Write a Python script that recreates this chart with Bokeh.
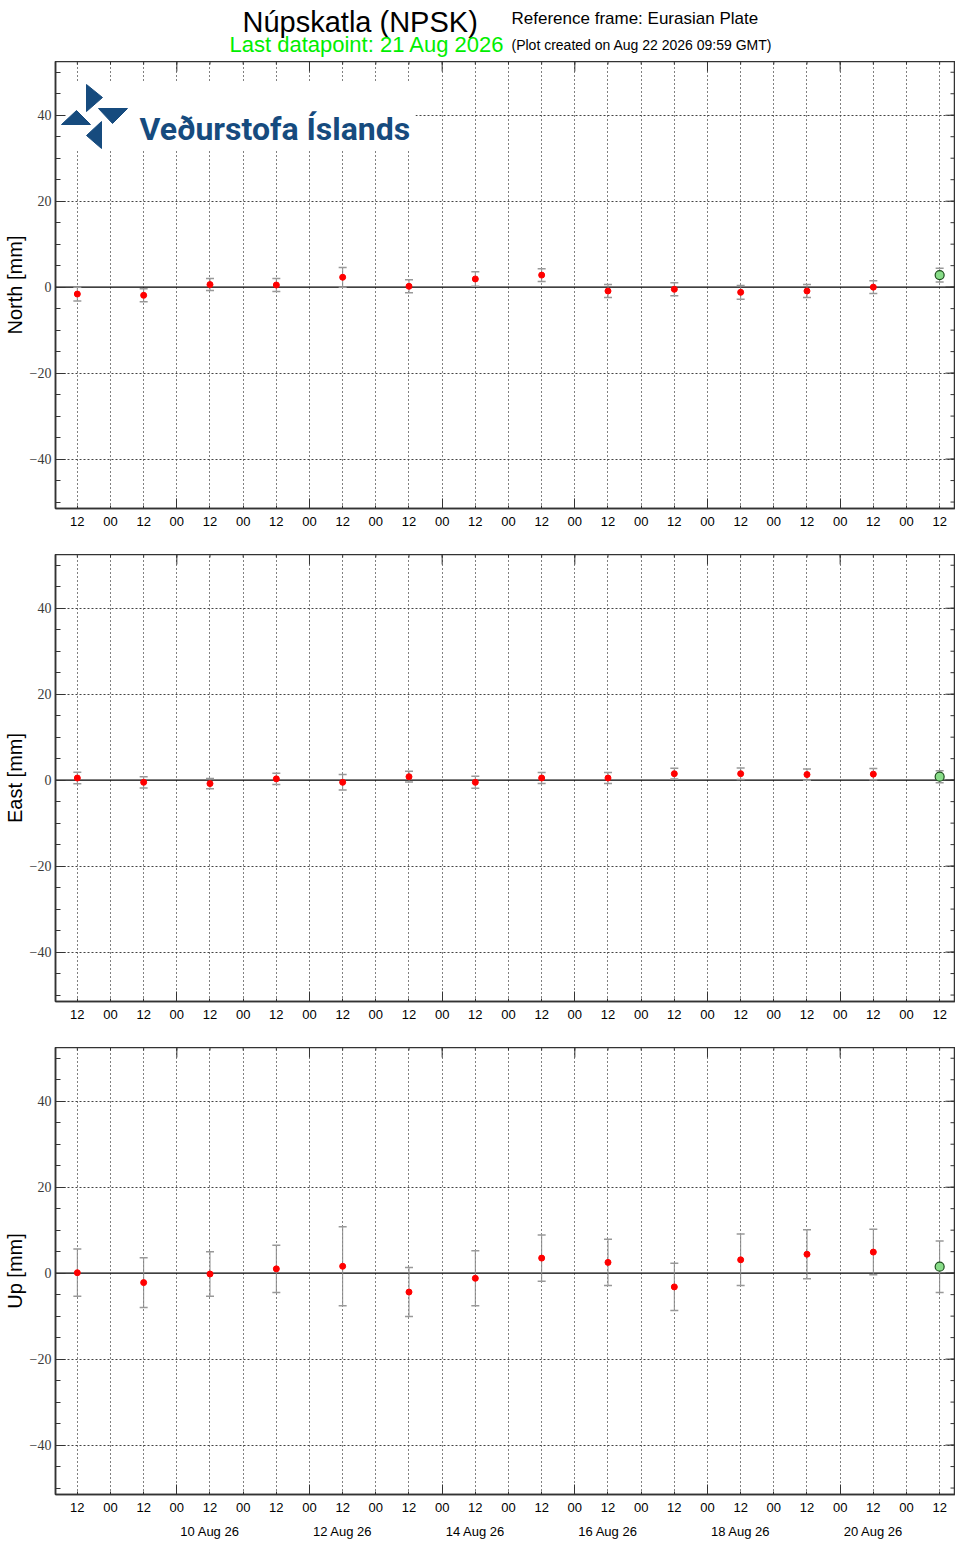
from datetime import datetime, timezone
from bokeh.plotting import figure
from bokeh.layouts import column
from bokeh.models import (Range1d, FixedTicker, DatetimeAxis,
                          DatetimeTickFormatter, ColumnDataSource, Whisker,
                          TeeHead, Span, CustomJSTickFormatter)
from bokeh.core.properties import value
from bokeh.embed import file_html
from bokeh.resources import INLINE

# ---------------- data ----------------
dates = ["2026-08-08 12:00", "2026-08-09 12:00", "2026-08-10 12:00",
         "2026-08-11 12:00", "2026-08-12 12:00", "2026-08-13 12:00",
         "2026-08-14 12:00", "2026-08-15 12:00", "2026-08-16 12:00",
         "2026-08-17 12:00", "2026-08-18 12:00", "2026-08-19 12:00",
         "2026-08-20 12:00", "2026-08-21 12:00"]
north = [-1.6, -1.9, 0.6, 0.5, 2.3, 0.2, 1.9, 2.8, -0.9, -0.5, -1.2, -0.9, 0.0, 2.8]
north_err = [1.6, 1.5, 1.4, 1.5, 2.3, 1.5, 1.7, 1.5, 1.5, 1.5, 1.6, 1.5, 1.5, 1.6]
east = [0.5, -0.5, -0.8, 0.3, -0.5, 0.8, -0.5, 0.5, 0.5, 1.5, 1.5, 1.3, 1.4, 0.8]
east_err = [1.35, 1.3, 1.2, 1.3, 1.8, 1.25, 1.4, 1.3, 1.3, 1.25, 1.35, 1.3, 1.3, 1.4]
up = [0.1, -2.2, -0.2, 1.0, 1.6, -4.4, -1.2, 3.5, 2.5, -3.2, 3.1, 4.4, 4.9, 1.5]
up_err = [5.5, 5.8, 5.2, 5.5, 9.2, 5.7, 6.4, 5.4, 5.4, 5.5, 6.0, 5.7, 5.3, 6.0]

y_major = [-40, -20, 0, 20, 40]
y_minor = [-50, -45, -40, -35, -30, -25, -20, -15, -10, -5, 0, 5, 10, 15, 20, 25, 30, 35, 40, 45, 50]
hgrid_ticks = [-40, -20, 20, 40]
date_label_days = ["2026-08-10 12:00", "2026-08-12 12:00", "2026-08-14 12:00",
                   "2026-08-16 12:00", "2026-08-18 12:00", "2026-08-20 12:00"]
long_tick_days = ["2026-08-10 00:00", "2026-08-12 00:00", "2026-08-14 00:00",
                  "2026-08-16 00:00", "2026-08-18 00:00", "2026-08-20 00:00"]
x_first_tick = "2026-08-08 12:00"
x_last_tick = "2026-08-21 12:00"
x_view = ("2026-08-08 04:06", "2026-08-21 17:44")
y_view = (-51.5, 52.5)

station_title = "N\u00fapskatla (NPSK)"
frame_text = "Reference frame: Eurasian Plate"
last_text = "Last datapoint: 21 Aug 2026"
created_text = "(Plot created on Aug 22 2026 09:59 GMT)"
logo_text = "Ve\u00f0urstofa \u00cdslands"


def ms(s):
    return datetime.strptime(s, "%Y-%m-%d %H:%M").replace(tzinfo=timezone.utc).timestamp() * 1000.0


HALF_DAY = 12 * 3600 * 1000.0
xs = [ms(d) for d in dates]
t0, t1 = ms(x_first_tick), ms(x_last_tick)
half_ticks = []
t = t0
while t <= t1 + 1:
    half_ticks.append(t)
    t += HALF_DAY
long_ticks = [ms(d) for d in long_tick_days]
date_ticks = [ms(d) for d in date_label_days]
XS, XE = ms(x_view[0]), ms(x_view[1])
YB, YT = y_view

FW, FH = 900, 447
LB = 48
SANS = value("Liberation Sans")
AX = "#333333"
DPX = (XE - XS) / FW      # data per pixel, x
DPY = (YT - YB) / FH      # data per pixel, y


def fmt_all(f):
    return DatetimeTickFormatter(microseconds=f, milliseconds=f, seconds=f, minsec=f,
                                 minutes=f, hourmin=f, hours=f, days=f, months=f, years=f)


def px2data(dx, dy):
    return XS + dx * DPX, YT - dy * DPY


def panel(label, vals, errs, bottom_border, with_dates=False, with_logo=False):
    p = figure(frame_width=FW, frame_height=FH,
               x_range=Range1d(XS, XE), y_range=Range1d(YB, YT),
               x_axis_type="datetime", toolbar_location=None, output_backend="svg",
               min_border_left=LB, min_border_right=0, min_border_top=0,
               min_border_bottom=bottom_border)
    p.background_fill_color = "white"
    p.border_fill_color = "white"
    p.outline_line_color = AX
    p.outline_line_width = 1.5

    ax = p.xaxis[0]
    ax.ticker = FixedTicker(ticks=half_ticks, minor_ticks=long_ticks)
    ax.formatter = fmt_all("%H")
    ax.major_tick_in = 3
    ax.major_tick_out = 0
    ax.minor_tick_in = 10
    ax.minor_tick_out = 0
    ax.major_tick_line_color = AX
    ax.minor_tick_line_color = AX
    ax.axis_line_color = AX
    ax.axis_line_width = 1.5
    ax.major_label_text_font = "Liberation Sans"
    ax.major_label_text_font_size = "13px"
    ax.major_label_text_color = "black"
    ax.major_label_standoff = 8

    ay = p.yaxis[0]
    ay.ticker = FixedTicker(ticks=y_major, minor_ticks=y_minor)
    ay.formatter = CustomJSTickFormatter(
        code="return tick < 0 ? '\u2212' + String(-tick) : String(tick);")
    ay.major_tick_in = 10
    ay.major_tick_out = 0
    ay.minor_tick_in = 5
    ay.minor_tick_out = 0
    ay.major_tick_line_color = AX
    ay.minor_tick_line_color = AX
    ay.axis_line_color = AX
    ay.axis_line_width = 1.5
    ay.major_label_text_font = "Liberation Serif"
    ay.major_label_text_font_size = "14px"
    ay.major_label_text_color = "#3a3a3a"
    ay.major_label_standoff = 4
    ay.axis_label = label
    ay.axis_label_text_font = "Liberation Sans"
    ay.axis_label_text_font_size = "20px"
    ay.axis_label_text_font_style = "normal"
    ay.axis_label_text_color = "black"
    ay.axis_label_standoff = 1

    p.xgrid.ticker = FixedTicker(ticks=half_ticks)
    p.xgrid.grid_line_color = "black"
    p.xgrid.grid_line_dash = "1 3"
    p.xgrid.grid_line_width = 1
    p.ygrid.ticker = FixedTicker(ticks=hgrid_ticks)
    p.ygrid.grid_line_color = "#444444"
    p.ygrid.grid_line_dash = "2 2"
    p.ygrid.grid_line_width = 1

    # mirrored inward ticks on the top and right edges
    p.segment(x0=half_ticks, y0=[YT] * len(half_ticks), x1=half_ticks,
              y1=[YT - 3 * DPY] * len(half_ticks), line_color=AX, line_width=1)
    p.segment(x0=long_ticks, y0=[YT] * len(long_ticks), x1=long_ticks,
              y1=[YT - 10 * DPY] * len(long_ticks), line_color=AX, line_width=1)
    p.segment(x0=[XE] * len(y_minor), y0=y_minor, x1=[XE - 5 * DPX] * len(y_minor),
              y1=y_minor, line_color=AX, line_width=1)
    p.segment(x0=[XE] * len(y_major), y0=y_major, x1=[XE - 10 * DPX] * len(y_major),
              y1=y_major, line_color=AX, line_width=1)

    if with_logo:
        bx0, by0 = px2data(2, 21)
        bx1, by1 = px2data(360, 89)
        p.quad(left=[bx0], right=[bx1], top=[by0], bottom=[by1],
               fill_color="white", line_color=None)
        tris = [
            [(31, 23), (47, 36), (31, 50)],
            [(43, 47), (72, 47), (57, 62)],
            [(46, 60), (46, 87), (31, 74)],
            [(6, 63), (35, 63), (21, 49)],
        ]
        lxs, lys = [], []
        for tri in tris:
            pts = [px2data(a, b) for a, b in tri]
            lxs.append([q[0] for q in pts])
            lys.append([q[1] for q in pts])
        p.patches(lxs, lys, fill_color="#164b7e", line_color="#164b7e")
        tx, ty = px2data(84, 67)
        p.text(x=[tx], y=[ty], text=[logo_text],
               text_font=value("Roboto"), text_font_style="bold",
               text_font_size="32px", text_color="#164b7e",
               text_baseline="alphabetic", text_align="left")

    zero = Span(location=0, dimension="width", line_color="black", line_width=1.3,
                level="underlay")
    p.add_layout(zero)

    src = ColumnDataSource(dict(x=xs, y=vals,
                                upper=[v + e for v, e in zip(vals, errs)],
                                lower=[v - e for v, e in zip(vals, errs)]))
    wh = Whisker(base="x", upper="upper", lower="lower", source=src,
                 line_color="#8a8a8a", line_width=1,
                 upper_head=TeeHead(size=8, line_color="#999999", line_width=1.5),
                 lower_head=TeeHead(size=8, line_color="#999999", line_width=1.5),
                 level="underlay")
    p.add_layout(wh)

    p.scatter(xs[:-1], vals[:-1], size=6, fill_color="#ff0000", line_color="#ff0000")
    p.scatter(xs[-1:], vals[-1:], size=9, fill_color="#88dd88", line_color="#1d4d1d",
              line_width=1.2)

    if with_dates:
        dax = DatetimeAxis(ticker=FixedTicker(ticks=date_ticks), formatter=fmt_all("%d %b %y"))
        dax.axis_line_color = None
        dax.major_tick_line_color = None
        dax.minor_tick_line_color = None
        dax.major_label_text_font = "Liberation Sans"
        dax.major_label_text_font_size = "13px"
        dax.major_label_text_color = "black"
        dax.major_label_standoff = 3
        p.add_layout(dax, "below")
    return p


# ---------------- header (page pixel coordinates) ----------------
HH = 61
hdr = figure(frame_width=FW, frame_height=HH, min_border_left=LB, min_border_right=0,
             min_border_top=0, min_border_bottom=0,
             x_range=Range1d(LB + 8, LB + 8 + FW), y_range=Range1d(8 + HH, 8),
             toolbar_location=None, output_backend="svg", x_axis_type=None,
             y_axis_type=None)
hdr.outline_line_color = None
hdr.grid.visible = False
hdr.text(x=[243], y=[29], text=[station_title], text_font=SANS,
         text_font_size="29px", text_color="black", text_baseline="alphabetic")
hdr.text(x=[512], y=[26], text=[frame_text], text_font=SANS,
         text_font_size="17px", text_color="black", text_baseline="alphabetic")
hdr.text(x=[230], y=[52], text=[last_text], text_font=SANS,
         text_font_size="22px", text_color="#00ee00", text_baseline="alphabetic")
hdr.text(x=[512], y=[52], text=[created_text], text_font=SANS,
         text_font_size="14px", text_color="black", text_baseline="alphabetic")

p1 = panel("North [mm]", north, north_err, 46, with_logo=True)
p2 = panel("East [mm]", east, east_err, 46)
p3 = panel("Up [mm]", up, up_err, 40, with_dates=True)

layout = column(hdr, p1, p2, p3, spacing=0)
with open("out.html", "w", encoding="utf-8") as f:
    f.write(file_html(layout, INLINE, "NPSK"))
